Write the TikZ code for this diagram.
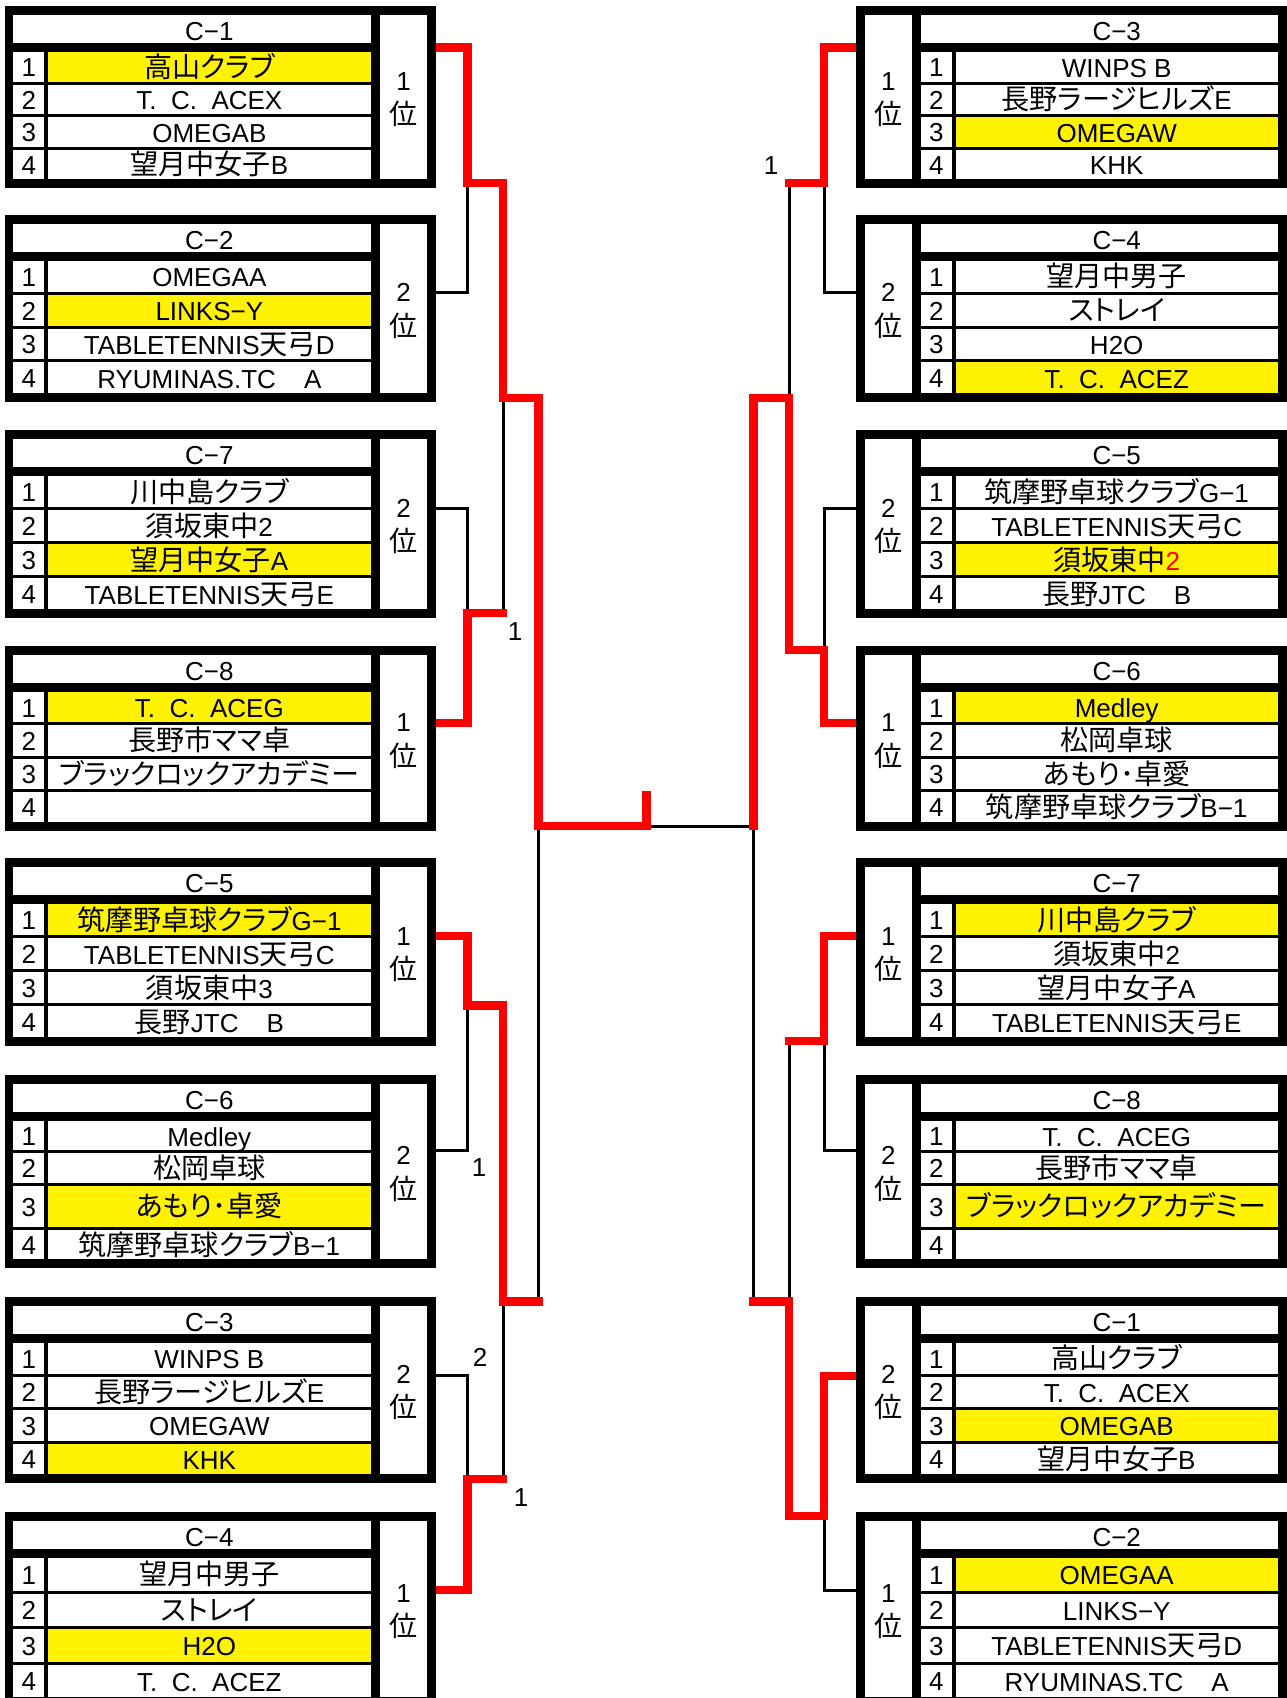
\documentclass[tikz,border=0pt]{standalone}
\usepackage{fontspec}
\setmainfont{Liberation Sans}
\newfontfamily\jp{Noto Sans CJK JP}[Scale=1.08, RawFeature=+palt]
\tikzstyle{win}=[red, line width=8.4pt, line join=miter, line cap=rect]
\tikzstyle{lose}=[black, line width=3pt]
\tikzstyle{cell}=[inner sep=0pt, text height=19pt, text depth=5pt]

\newcommand{\setleft}{\def\xa{5}\def\xb{436}\def\na{13.3}\def\nb{44.3}\def\ma{47.7}\def\mb{371}\def\ra{380}\def\rb{427.3}}
\newcommand{\setright}{\def\xa{856}\def\xb{1287}\def\na{921}\def\nb{951.7}\def\ma{955.7}\def\mb{1277.7}\def\ra{865}\def\rb{911.7}}
% #1 name, #2 top, #3 row height, #4 third row height, #5 title, #6 rank, #7 yellow row, #8 teams
\newcommand{\grp}[8]{%
  \pgfmathsetmacro{\yb}{#2+64+3*#3+#4}
  \fill[black] (\xa,#2) rectangle (\xb,\yb);
  \fill[white] (\na,#2+9) rectangle (\mb,#2+37);
  \fill[white] (\ra,#2+9) rectangle (\rb,\yb-9);
  \node[cell] (#1-t) at ({(\ma+\mb)/2},#2+27.5) {#5};
  \node[cell] (#1-r) at ({(\ra+\rb)/2},{(#2+\yb)/2-14}) {#6};
  \node[cell] (#1-p) at ({(\ra+\rb)/2},{(#2+\yb)/2+20.5}) {\jp 位};
  \foreach \tm [count=\rw] in {#8}{
    \pgfmathsetmacro{\yt}{#2+46+(\rw-1)*(#3+3)+(\rw==4)*(#4-#3)}
    \pgfmathsetmacro{\hh}{\rw==3 ? #4 : #3}
    \ifnum\rw=#7 \def\cc{yellow}\else\def\cc{white}\fi
    \fill[white] (\na,\yt) rectangle (\nb,\yt+\hh);
    \fill[\cc] (\ma,\yt) rectangle (\mb,\yt+\hh);
    \node[cell] (#1-n\rw) at ({(\na+\nb)/2},\yt+\hh/2+3) {\rw};
    \node[cell] (#1-m\rw) at ({(\ma+\mb)/2},\yt+\hh/2+3.5) {\tm};
  }%
}

\begin{document}
\begin{tikzpicture}[x=1pt, y=-1pt, font=\fontsize{26}{33}\selectfont]
\useasboundingbox (0,0) rectangle (1287,1698);
\clip (0,0) rectangle (1287,1698);

\coordinate (l1) at (436,47.5);
\coordinate (l2) at (436,292);
\coordinate (l3) at (436,508);
\coordinate (l4) at (436,723);
\coordinate (l5) at (436,936);
\coordinate (l6) at (436,1150);
\coordinate (l7) at (436,1375);
\coordinate (l8) at (436,1590);
\coordinate (l12) at (467.5,183);
\coordinate (l34) at (467.5,613);
\coordinate (l56) at (467.5,1005.5);
\coordinate (l78) at (467.5,1479);
\coordinate (l14) at (503,398);
\coordinate (l58) at (503,1301.5);
\coordinate (lf) at (538.5,826);
\coordinate (ctr) at (646.5,826);
\coordinate (cup) at (646.5,795);

\coordinate (r1) at (856,47.5);
\coordinate (r2) at (856,292);
\coordinate (r3) at (856,508);
\coordinate (r4) at (856,723);
\coordinate (r5) at (856,936);
\coordinate (r6) at (856,1150);
\coordinate (r7) at (856,1376);
\coordinate (r8) at (856,1590);
\coordinate (r12) at (824,183);
\coordinate (r34) at (824,650);
\coordinate (r56) at (824,1041);
\coordinate (r78) at (824,1516);
\coordinate (r14) at (789,398);
\coordinate (r58) at (789,1301.5);
\coordinate (rf) at (753.5,826);

\draw[lose] (l2) -| (l12);
\draw[lose] (l3) -| (l34);
\draw[lose] (l34 -| l14) -- (l14);
\draw[lose] (l6) -| (l56);
\draw[lose] (l7) -| (l78);
\draw[lose] (l78 -| l58) -- (l58);
\draw[lose] (l58 -| lf) -- (lf);
\draw[lose] (r2) -| (r12);
\draw[lose] (r12 -| r14) -- (r14);
\draw[lose] (r3) -| (r34);
\draw[lose] (r6) -| (r56);
\draw[lose] (r56 -| r58) -- (r58);
\draw[lose] (r8) -| (r78);
\draw[lose] (r58 -| rf) -- (rf);
\draw[lose] (rf) -- (ctr);

\draw[win] (l1) -| (l12) -| (l14) -| (lf) -- (ctr) -- (cup);
\draw[win] (l4) -| (l34) -- (l34 -| l14);
\draw[win] (l5) -| (l56) -| (l58) -- (l58 -| lf);
\draw[win] (l8) -| (l78) -- (l78 -| l58);
\draw[win] (r1) -| (r12) -- (r12 -| r14);
\draw[win] (r4) -| (r34) -| (r14) -| (rf);
\draw[win] (r5) -| (r56) -- (r56 -| r58);
\draw[win] (r7) -| (r78) -| (r58) -- (r58 -| rf);

\setleft
\grp{la}{6}{29.5}{29.5}{C−1}{1}{1}{{\jp 高山クラブ},T.\ \ C.\ \ ACEX,OMEGAB,{\jp 望月中女子}B}
\grp{lb}{215}{30.75}{30.75}{C−2}{2}{2}{OMEGAA,LINKS−Y,TABLETENNIS{\jp 天弓}D,RYUMINAS.TC{\jp 　}A}
\grp{lc}{430}{31}{31}{C−7}{2}{3}{{\jp 川中島クラブ},{\jp 須坂東中}2,{\jp 望月中女子}A,TABLETENNIS{\jp 天弓}E}
\grp{ld}{646}{30.25}{30.25}{C−8}{1}{1}{T.\ \ C.\ \ ACEG,{\jp 長野市ママ卓},{\jp ブラックロックアカデミー},{}}
\grp{le}{858}{31}{31}{C−5}{1}{1}{{\jp 筑摩野卓球クラブ}G−1,TABLETENNIS{\jp 天弓}C,{\jp 須坂東中}3,{\jp 長野}JTC{\jp 　}B}
\grp{lf}{1075}{29.3}{41.3}{C−6}{2}{3}{Medley,{\jp 松岡卓球},{\jp あもり･卓愛},{\jp 筑摩野卓球クラブ}B−1}
\grp{lg}{1297}{30.5}{30.5}{C−3}{2}{4}{WINPS B,{\jp 長野ラージヒルズ}E,OMEGAW,KHK}
\grp{lh}{1512}{32.5}{32.5}{C−4}{1}{3}{{\jp 望月中男子},{\jp ストレイ},H2O,T.\ \ C.\ \ ACEZ}

\setright
\grp{ra}{6}{29.5}{29.5}{C−3}{1}{3}{WINPS B,{\jp 長野ラージヒルズ}E,OMEGAW,KHK}
\grp{rb}{215}{30.75}{30.75}{C−4}{2}{4}{{\jp 望月中男子},{\jp ストレイ},H2O,T.\ \ C.\ \ ACEZ}
\grp{rc}{430}{31}{31}{C−5}{2}{3}{{\jp 筑摩野卓球クラブ}G−1,TABLETENNIS{\jp 天弓}C,{\jp 須坂東中}\textcolor{red}{2},{\jp 長野}JTC{\jp 　}B}
\grp{rd}{646}{30.25}{30.25}{C−6}{1}{1}{Medley,{\jp 松岡卓球},{\jp あもり･卓愛},{\jp 筑摩野卓球クラブ}B−1}
\grp{re}{858}{31}{31}{C−7}{1}{1}{{\jp 川中島クラブ},{\jp 須坂東中}2,{\jp 望月中女子}A,TABLETENNIS{\jp 天弓}E}
\grp{rf}{1075}{29.3}{41.3}{C−8}{2}{3}{T.\ \ C.\ \ ACEG,{\jp 長野市ママ卓},{\jp ブラックロックアカデミー},{}}
\grp{rg}{1297}{30.5}{30.5}{C−1}{2}{3}{{\jp 高山クラブ},T.\ \ C.\ \ ACEX,OMEGAB,{\jp 望月中女子}B}
\grp{rh}{1512}{32.5}{32.5}{C−2}{1}{1}{OMEGAA,LINKS−Y,TABLETENNIS{\jp 天弓}D,RYUMINAS.TC{\jp 　}A}

\node (s1) at (515,632) {1};
\node (s2) at (479,1168) {1};
\node (s3) at (480,1357) {2};
\node (s4) at (521,1498) {1};
\node (s5) at (771,166) {1};
\end{tikzpicture}
\end{document}
